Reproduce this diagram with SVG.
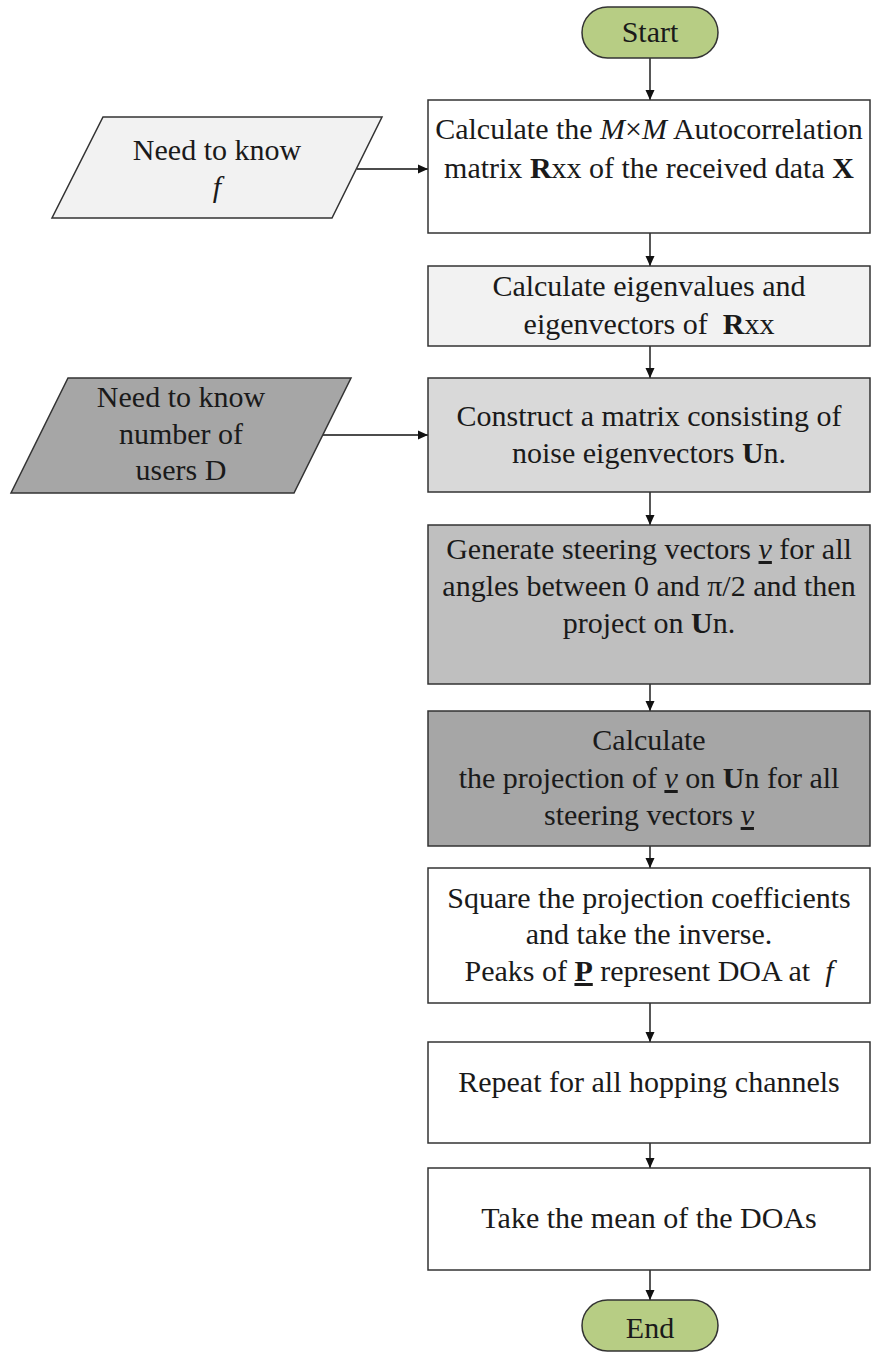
<svg xmlns="http://www.w3.org/2000/svg" width="871" height="1357" viewBox="0 0 871 1357">
<style>
text{font-family:"Liberation Serif","Times New Roman",serif;font-size:30px;fill:#1a1a1a;text-anchor:middle}
.b{font-weight:bold}
.i{font-style:italic}
.u{text-decoration:underline}
.box{stroke:#333;stroke-width:1.5}
.term{fill:#b7cd84;stroke:#333;stroke-width:1.5}
.conn line{stroke:#111;stroke-width:1.4;fill:none}
</style>
<defs>
<marker id="ah" markerUnits="userSpaceOnUse" markerWidth="11" markerHeight="11" refX="10" refY="5.5" orient="auto">
<path d="M0,1 L10,5.5 L0,10 z" fill="#111"/>
</marker>
</defs>
<rect width="871" height="1357" fill="#fff"/>

<g id="connectors" class="conn">
<line x1="650" y1="58" x2="650" y2="100" marker-end="url(#ah)"/>
<line x1="357" y1="169" x2="428" y2="169" marker-end="url(#ah)"/>
<line x1="650" y1="233" x2="650" y2="266" marker-end="url(#ah)"/>
<line x1="650" y1="346" x2="650" y2="378" marker-end="url(#ah)"/>
<line x1="323" y1="435" x2="428" y2="435" marker-end="url(#ah)"/>
<line x1="650" y1="492" x2="650" y2="525" marker-end="url(#ah)"/>
<line x1="650" y1="684" x2="650" y2="711" marker-end="url(#ah)"/>
<line x1="650" y1="846" x2="650" y2="868" marker-end="url(#ah)"/>
<line x1="650" y1="1003" x2="650" y2="1042" marker-end="url(#ah)"/>
<line x1="650" y1="1143" x2="650" y2="1168" marker-end="url(#ah)"/>
<line x1="650" y1="1270" x2="650" y2="1300" marker-end="url(#ah)"/>
</g>

<g id="start">
<rect class="term" x="582" y="7" width="136" height="51" rx="25.5"/>
<text x="650" y="42">Start</text>
</g>

<g id="input-f">
<polygon class="box" fill="#f2f2f2" points="103,117 382,117 332,218 52,218"/>
<text x="217" y="160">Need to know</text>
<text x="217" y="197" class="i">f</text>
</g>

<g id="autocorr">
<rect class="box" fill="#ffffff" x="428" y="100" width="442" height="133"/>
<text x="649" y="139">Calculate the <tspan class="i">M</tspan>×<tspan class="i">M</tspan> Autocorrelation</text>
<text x="649" y="178">matrix <tspan class="b">R</tspan>xx of the received data <tspan class="b">X</tspan></text>
</g>

<g id="eigen">
<rect class="box" fill="#f2f2f2" x="428" y="266" width="442" height="80"/>
<text x="649" y="296">Calculate eigenvalues and</text>
<text x="649" y="334">eigenvectors of&#160; <tspan class="b">R</tspan>xx</text>
</g>

<g id="input-d">
<polygon class="box" fill="#a6a6a6" points="68,378 351,378 294,493 11,493"/>
<text x="181" y="407">Need to know</text>
<text x="181" y="444">number of</text>
<text x="181" y="480">users D</text>
</g>

<g id="noise">
<rect class="box" fill="#d9d9d9" x="428" y="378" width="442" height="114"/>
<text x="649" y="426">Construct a matrix consisting of</text>
<text x="649" y="463">noise eigenvectors <tspan class="b">U</tspan>n.</text>
</g>

<g id="steering">
<rect class="box" fill="#bfbfbf" x="428" y="525" width="442" height="159"/>
<text x="649" y="559">Generate steering vectors <tspan class="i u">v</tspan> for all</text>
<text x="649" y="596">angles between 0 and π/2 and then</text>
<text x="649" y="633">project on <tspan class="b">U</tspan>n.</text>
</g>

<g id="projection">
<rect class="box" fill="#a6a6a6" x="428" y="711" width="442" height="135"/>
<text x="649" y="750">Calculate</text>
<text x="649" y="788">the projection of <tspan class="i u">v</tspan> on <tspan class="b">U</tspan>n for all</text>
<text x="649" y="825">steering vectors <tspan class="i u">v</tspan></text>
</g>

<g id="square">
<rect class="box" fill="#ffffff" x="428" y="868" width="442" height="135"/>
<text x="649" y="908">Square the projection coefficients</text>
<text x="649" y="944">and take the inverse.</text>
<text x="649" y="981">Peaks of <tspan class="b u">P</tspan> represent DOA at&#160; <tspan class="i">f</tspan></text>
</g>

<g id="repeat">
<rect class="box" fill="#ffffff" x="428" y="1042" width="442" height="101"/>
<text x="649" y="1092">Repeat for all hopping channels</text>
</g>

<g id="mean">
<rect class="box" fill="#ffffff" x="428" y="1168" width="442" height="102"/>
<text x="649" y="1228">Take the mean of the DOAs</text>
</g>

<g id="end">
<rect class="term" x="582" y="1300" width="136" height="51" rx="25.5"/>
<text x="650" y="1338">End</text>
</g>
</svg>
